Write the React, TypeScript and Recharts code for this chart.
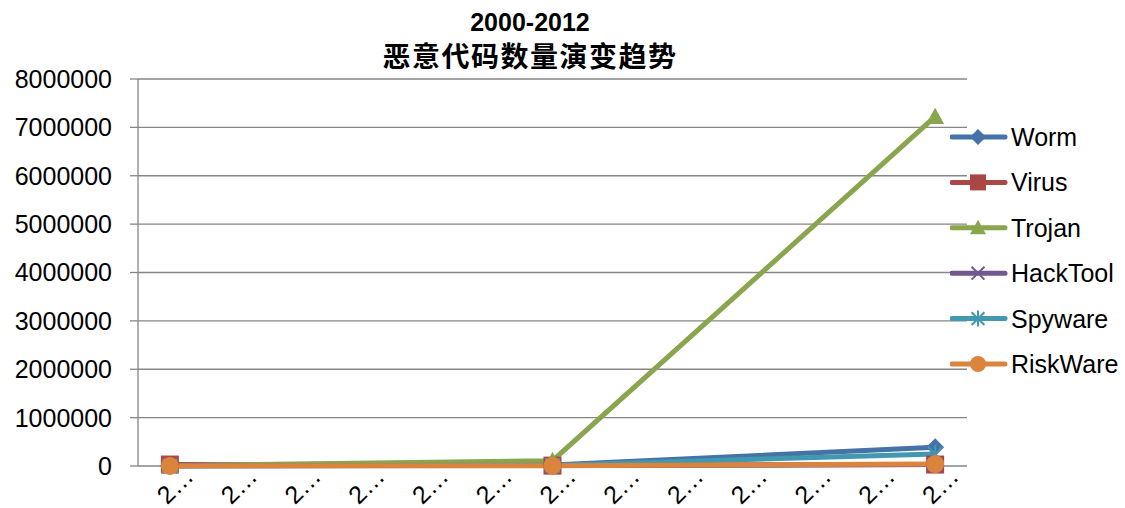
import React from "react";
import { LineChart, Line, XAxis, YAxis, CartesianGrid } from "recharts";

// 2000..2012, only three years reported
const years = ["2000", "2001", "2002", "2003", "2004", "2005", "2006", "2007", "2008", "2009", "2010", "2011", "2012"];
const worm = [12000, null, null, null, null, null, 20000, null, null, null, null, null, 390000];
const virus = [30000, null, null, null, null, null, 8000, null, null, null, null, null, 30000];
const trojan = [6000, null, null, null, null, null, 110000, null, null, null, null, null, 7220000];
const hacktool = [3000, null, null, null, null, null, 12000, null, null, null, null, null, 30000];
const spyware = [1000, null, null, null, null, null, 15000, null, null, null, null, null, 250000];
const riskware = [2000, null, null, null, null, null, 6000, null, null, null, null, null, 40000];
const yTicks = [0, 1000000, 2000000, 3000000, 4000000, 5000000, 6000000, 7000000, 8000000];

const series = [
  { key: "Worm", values: worm, color: "#4572A7", marker: "diamond" },
  { key: "Virus", values: virus, color: "#AA4643", marker: "square" },
  { key: "Trojan", values: trojan, color: "#89A54E", marker: "triangle" },
  { key: "HackTool", values: hacktool, color: "#71588F", marker: "x" },
  { key: "Spyware", values: spyware, color: "#4198AF", marker: "star" },
  { key: "RiskWare", values: riskware, color: "#DB843D", marker: "circle" },
];

const data = years.map((y, i) => {
  const row: any = { year: y, x: i + 0.5 };
  series.forEach((s) => (row[s.key] = s.values[i]));
  return row;
});

const FONT = "'Liberation Sans', Arial, sans-serif";

function Marker({ kind, cx, cy, color, size }: any) {
  const h = size / 2;
  switch (kind) {
    case "diamond":
      return <polygon points={`${cx},${cy - h} ${cx + h},${cy} ${cx},${cy + h} ${cx - h},${cy}`} fill={color} />;
    case "square":
      return <rect x={cx - h} y={cy - h} width={size} height={size} fill={color} />;
    case "triangle":
      return <polygon points={`${cx},${cy - h} ${cx + h},${cy + h * 0.8} ${cx - h},${cy + h * 0.8}`} fill={color} />;
    case "x":
      return (
        <g stroke={color} strokeWidth={2}>
          <line x1={cx - h * 0.8} y1={cy - h * 0.8} x2={cx + h * 0.8} y2={cy + h * 0.8} />
          <line x1={cx - h * 0.8} y1={cy + h * 0.8} x2={cx + h * 0.8} y2={cy - h * 0.8} />
        </g>
      );
    case "star":
      return (
        <g stroke={color} strokeWidth={2}>
          <line x1={cx - h * 0.8} y1={cy - h * 0.8} x2={cx + h * 0.8} y2={cy + h * 0.8} />
          <line x1={cx - h * 0.8} y1={cy + h * 0.8} x2={cx + h * 0.8} y2={cy - h * 0.8} />
          <line x1={cx} y1={cy - h} x2={cx} y2={cy + h} />
        </g>
      );
    default:
      return <circle cx={cx} cy={cy} r={h} fill={color} />;
  }
}

const makeDot = (kind: string, color: string) => (props: any) => {
  const { cx, cy, value, index } = props;
  if (cx == null || cy == null || value == null) return <g key={index} />;
  return <Marker key={index} kind={kind} cx={cx} cy={cy} color={color} size={18} />;
};

const YearTick = (props: any) => {
  const { x, y, payload } = props;
  const label = years[Math.floor(payload.value)].slice(0, 1) + "…";
  const ax = x + 25;
  const ay = y + 4;
  return (
    <text x={ax} y={ay} textAnchor="end" transform={`rotate(-45 ${ax} ${ay})`}
      fontSize={25} fontFamily={FONT} fill="#000">
      {label}
    </text>
  );
};

function LegendBox() {
  return (
    <svg width={175} height={280} style={{ position: "absolute", left: 950, top: 120 }}>
      {series.map((s, i) => {
        const cy = 17 + i * 45.4;
        return (
          <g key={s.key}>
            <line x1={2} y1={cy} x2={55} y2={cy} stroke={s.color} strokeWidth={5} strokeLinecap="round" />
            <Marker kind={s.marker} cx={28} cy={cy} color={s.color} size={16} />
            <text x={61} y={cy + 9} fontSize={25} fontFamily={FONT} fill="#000">{s.key}</text>
          </g>
        );
      })}
    </svg>
  );
}

export default function App() {
  return (
    <div style={{ position: "absolute", left: 0, top: 0, width: 1125, height: 508, background: "#fff", fontFamily: FONT, overflow: "hidden" }}>
      <div style={{ position: "absolute", left: 330, width: 400, top: 6, textAlign: "center", fontWeight: "bold", color: "#000" }}>
        <div style={{ fontSize: 25, lineHeight: "32px" }}>2000-2012</div>
        <div style={{ fontSize: 28, lineHeight: "34px", fontFamily: "'Noto Sans CJK SC', sans-serif", letterSpacing: 1.5 }}>恶意代码数量演变趋势</div>
      </div>
      <LineChart width={1125} height={508} data={data} margin={{ top: 79, right: 158, left: 0, bottom: 0 }}>
        <CartesianGrid vertical={false} stroke="#868686" strokeWidth={1.3} />
        <XAxis xAxisId="pos" dataKey="x" type="number" domain={[0, 13]} ticks={[0, 1, 2, 3, 4, 5, 6, 7, 8, 9, 10, 11, 12, 13]}
          height={0} tickSize={6} tick={() => <g />} stroke="#868686" strokeWidth={1.3} />
        <XAxis xAxisId="lbl" dataKey="x" type="number" domain={[0, 13]} ticks={[0.5, 1.5, 2.5, 3.5, 4.5, 5.5, 6.5, 7.5, 8.5, 9.5, 10.5, 11.5, 12.5]}
          height={42} axisLine={false} tickLine={false} tick={<YearTick />} interval={0} />
        <YAxis domain={[0, 8000000]} ticks={yTicks} interval={0} width={138} tickSize={8} tickMargin={18}
          stroke="#868686" strokeWidth={1.3} tick={{ fontSize: 25, fill: "#000", fontFamily: FONT }} />
        {series.map((s) => (
          <Line key={s.key} xAxisId="pos" dataKey={s.key} type="linear" stroke={s.color} strokeWidth={5}
            connectNulls dot={makeDot(s.marker, s.color)} activeDot={false} isAnimationActive={false} />
        ))}
      </LineChart>
      <LegendBox />
    </div>
  );
}
